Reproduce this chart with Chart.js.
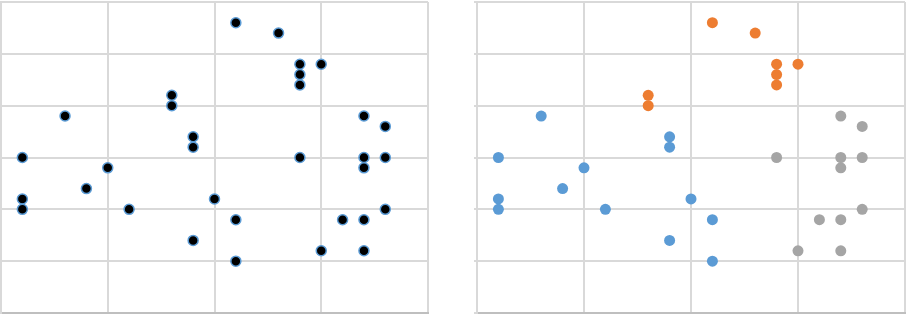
<!DOCTYPE html>
<html>
<head>
<meta charset="utf-8">
<script src="https://cdn.jsdelivr.net/npm/chart.js@4.4.0/dist/chart.umd.min.js"></script>
<style>
    html, body { margin: 0; padding: 0; background: #fff; }
    .box { position: absolute; top: 0; height: 322px; }
    #leftBox { left: 0; width: 455px; }
    #rightBox { left: 455px; width: 455px; }
</style>
</head>
<body>
<div class="box" id="leftBox"><canvas id="rawChart"></canvas></div>
<div class="box" id="rightBox"><canvas id="clusterChart"></canvas></div>
<script>
// Points (x 0..20, y 0..30)
const xValues = [11, 13, 14, 14, 14, 15, 8, 8, 3, 17, 18, 9, 9, 1, 14, 17, 18, 5, 17, 4, 1, 10, 1, 6, 18, 11, 16, 17, 9, 15, 17, 11];
const yValues = [28, 27, 24, 23, 22, 24, 21, 20, 19, 19, 18, 17, 16, 15, 15, 15, 15, 14, 14, 12, 11, 11, 10, 10, 10, 9, 9, 9, 7, 6, 6, 5];
// cluster of each point: 0 = blue, 1 = orange, 2 = gray
const clusters = [1, 1, 1, 1, 1, 1, 1, 1, 0, 2, 2, 0, 0, 0, 2, 2, 2, 0, 2, 0, 0, 0, 0, 0, 2, 0, 2, 2, 0, 2, 2, 0];
const clusterColors = ['#5b9bd5', '#ed7d31', '#a5a5a5'];

const xMax = 20, xStep = 5;
const yMax = 30, yStep = 5;

function allPoints() {
    return xValues.map((x, i) => ({ x: x, y: yValues[i] }));
}

function clusterPoints(c) {
    return allPoints().filter((p, i) => clusters[i] === c);
}

function scaleOpts(padLeft, padRight, yTicks) {
    return {
        responsive: true,
        maintainAspectRatio: false,
        animation: false,
        layout: { autoPadding: false, padding: { left: padLeft, right: padRight, top: 2, bottom: 9 } },
        plugins: { legend: { display: false }, tooltip: { enabled: false } },
        scales: {
            x: {
                type: 'linear',
                min: 0, max: xMax,
                ticks: { display: false, stepSize: xStep },
                grid: { color: '#d9d9d9', lineWidth: 2, drawTicks: false },
                border: { color: '#bfbfbf', width: 2 }
            },
            y: {
                type: 'linear',
                min: 0, max: yMax,
                ticks: { display: false, stepSize: yStep },
                grid: { color: '#d9d9d9', lineWidth: 2, drawTicks: yTicks, tickLength: 3 },
                border: { color: '#d9d9d9', width: 2 }
            }
        }
    };
}

new Chart(document.getElementById('rawChart'), {
    type: 'scatter',
    data: {
        datasets: [{
            data: allPoints(),
            backgroundColor: '#000000',
            borderColor: '#5b9bd5',
            borderWidth: 1.5,
            pointRadius: 5
        }]
    },
    options: scaleOpts(1, 27, false)
});

new Chart(document.getElementById('clusterChart'), {
    type: 'scatter',
    data: {
        datasets: [0, 1, 2].map(c => ({
            data: clusterPoints(c),
            backgroundColor: clusterColors[c],
            borderColor: clusterColors[c],
            borderWidth: 0,
            pointRadius: 5.5
        }))
    },
    options: scaleOpts(19, 5, true)
});
</script>
</body>
</html>
